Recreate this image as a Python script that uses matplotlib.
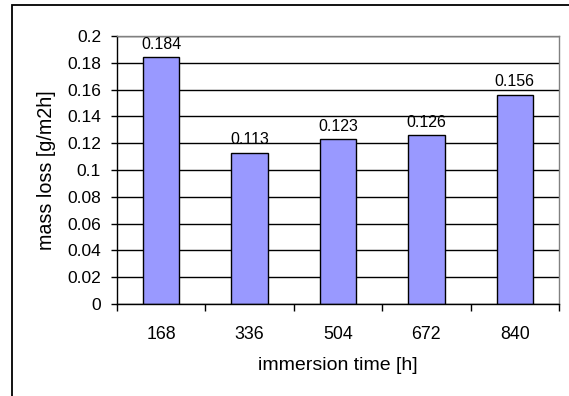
import matplotlib
matplotlib.use("Agg")
import matplotlib.pyplot as plt
from matplotlib.patches import Rectangle
import numpy as np

# data
times = ["168", "336", "504", "672", "840"]
mass_loss = [0.184, 0.113, 0.123, 0.126, 0.156]
labels = ["0.184", "0.113", "0.123", "0.126", "0.156"]
yticks = [0, 0.02, 0.04, 0.06, 0.08, 0.1, 0.12, 0.14, 0.16, 0.18, 0.2]
ytick_labels = ["0", "0.02", "0.04", "0.06", "0.08", "0.1", "0.12", "0.14", "0.16", "0.18", "0.2"]

plt.rcParams["font.family"] = ["Liberation Sans", "DejaVu Sans"]

W, H = 569, 396
fig = plt.figure(figsize=(W / 100, H / 100), dpi=100)

# outer chart border (cut off at right and bottom in the original)
fig.patches.append(Rectangle((12 / W, -0.1), 1.2, 1 - 5 / H + 0.1, transform=fig.transFigure,
                             fill=False, edgecolor="black", linewidth=1.3, zorder=0))

ax = fig.add_axes([117 / W, 1 - 304 / H, (559 - 117) / W, (304 - 36) / H])
x = np.arange(len(times))
ax.set_axisbelow(True)
ax.grid(axis="y", color="black", linewidth=1)
bars = ax.bar(x, mass_loss, width=0.41, color="#9999FF", edgecolor="black", linewidth=1, zorder=2)

for xi, v, lab in zip(x, mass_loss, labels):
    ax.annotate(lab, (xi, v), xytext=(0, 4), textcoords="offset points",
                ha="center", va="bottom", fontsize=11.5)

ax.set_xlim(-0.5, len(times) - 0.5)
ax.set_ylim(0, 0.2)
ax.set_yticks(yticks)
ax.set_yticklabels(ytick_labels, fontsize=12.5)

ax.set_xticks(np.arange(len(times) + 1) - 0.5)
ax.set_xticklabels([])
ax.set_xticks(x, minor=True)
ax.set_xticklabels(times, minor=True, fontsize=12.8)
ax.tick_params(axis="x", which="major", direction="out", length=5, width=1)
ax.tick_params(axis="x", which="minor", length=0, pad=16)
ax.tick_params(axis="y", direction="out", length=4.5, width=1, pad=7)

for s in ["left", "bottom"]:
    ax.spines[s].set_color("black")
    ax.spines[s].set_linewidth(1)
for s in ["top", "right"]:
    ax.spines[s].set_color("#808080")
    ax.spines[s].set_linewidth(1)

ax.set_xlabel("immersion time [h]", fontsize=14, labelpad=10)
ax.set_ylabel("mass loss [g/m2h]", fontsize=14.2)
ax.yaxis.set_label_coords((56 - 117) / 442, 0.5)

fig.savefig("out.png", dpi=100)
